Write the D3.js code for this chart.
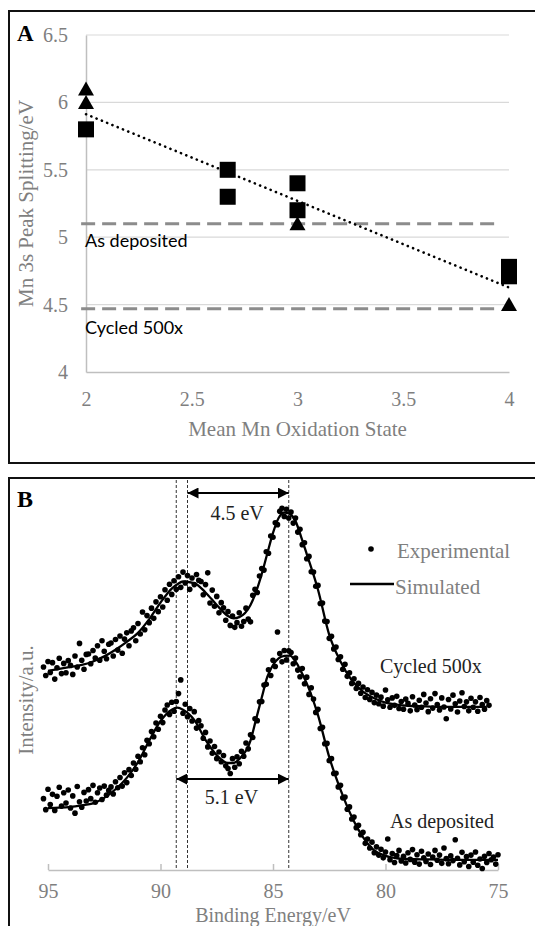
<!DOCTYPE html>
<html><head><meta charset="utf-8">
<script src="https://cdn.jsdelivr.net/npm/d3@7"></script>
<style>html,body{margin:0;padding:0;background:#fff;}svg{display:block;}
.serif{font-family:"Liberation Serif","Times New Roman",serif;}
.sans{font-family:Lato,"Noto Sans",sans-serif;}
</style>
</head><body>
<script>
// ---------- Panel A data ----------
const aXTicks = [2, 2.5, 3, 3.5, 4];
const aYTicks = [4, 4.5, 5, 5.5, 6, 6.5];
const triangleX = [2, 2, 3, 4];
const triangleY = [6.1, 6.0, 5.1, 4.5];
const squareX = [2, 2.67, 2.67, 3, 3, 4, 4];
const squareY = [5.8, 5.5, 5.3, 5.4, 5.2, 4.78, 4.71];
const refValues = [5.1, 4.47];
const refLabels = ["As deposited", "Cycled 500x"];

// ---------- Panel B data ----------
const bXTicks = [95, 90, 85, 80, 75];
const peakLines = [89.3, 88.8, 84.3];
const splitFrom = [88.8, 89.3];
const splitTo = [84.3, 84.3];
const splitLabels = ["4.5 eV", "5.1 eV"];
const seriesLabels = ["Cycled 500x", "As deposited"];
const legendLabels = ["Experimental", "Simulated"];

const simEnergy = [95.0, 94.5, 94.0, 93.5, 93.0, 92.5, 92.0, 91.5, 91.0, 90.5, 90.0, 89.5, 89.25, 89.0, 88.5, 88.0, 87.5, 87.0, 86.75, 86.5, 86.0, 85.75, 85.5, 85.25, 85.0, 84.75, 84.5, 84.25, 84.0, 83.75, 83.5, 83.0, 82.5, 82.0, 81.5, 81.0, 80.5, 80.0, 79.5, 79.0, 78.0, 77.0, 76.0, 75.5, 75.0];
const simCycled = [50.8, 51.3, 51.8, 52.3, 53.2, 54.5, 56.2, 58.2, 60.5, 64.0, 68.2, 71.8, 72.9, 73.6, 73.2, 70.8, 67.6, 64.8, 64.2, 64.5, 67.6, 71.0, 75.5, 80.8, 86.0, 89.8, 91.2, 90.8, 89.0, 85.0, 80.6, 71.5, 60.0, 53.2, 48.4, 45.5, 43.8, 42.7, 42.2, 41.9, 41.7, 41.6, 41.6, 41.6, null];
const simDeposited = [15.8, 15.9, 16.1, 16.5, 17.0, 18.4, 20.6, 23.5, 27.5, 33.0, 38.0, 40.9, 41.4, 40.9, 38.3, 33.2, 29.3, 27.3, 27.3, 28.3, 33.0, 38.5, 44.0, 49.3, 52.3, 54.0, 54.6, 54.7, 53.2, 50.6, 47.6, 39.5, 28.8, 20.5, 13.6, 8.4, 5.0, 3.6, 3.0, 2.8, 2.7, 2.6, 2.6, 2.6, 2.6];

const expEnergy = [
95.2,95.1,95.0,94.9,94.8,94.7,94.6,94.5,94.4,94.3,
94.2,94.1,94.0,93.9,93.8,93.7,93.6,93.5,93.4,93.3,
93.2,93.1,93.0,92.9,92.8,92.7,92.6,92.5,92.4,92.3,
92.2,92.1,92.0,91.9,91.8,91.7,91.6,91.5,91.4,91.3,
91.2,91.1,91.0,90.9,90.8,90.7,90.6,90.5,90.4,90.3,
90.2,90.1,90.0,89.9,89.8,89.7,89.6,89.5,89.4,89.3,
89.2,89.1,89.0,88.9,88.8,88.7,88.6,88.5,88.4,88.3,
88.2,88.1,88.0,87.9,87.8,87.7,87.6,87.5,87.4,87.3,
87.2,87.1,87.0,86.9,86.8,86.7,86.6,86.5,86.4,86.3,
86.2,86.1,86.0,85.9,85.8,85.7,85.6,85.5,85.4,85.3,
85.2,85.1,85.0,84.9,84.8,84.7,84.6,84.5,84.4,84.3,
84.2,84.1,84.0,83.9,83.8,83.7,83.6,83.5,83.4,83.3,
83.2,83.1,83.0,82.9,82.8,82.7,82.6,82.5,82.4,82.3,
82.2,82.1,82.0,81.9,81.8,81.7,81.6,81.5,81.4,81.3,
81.2,81.1,81.0,80.9,80.8,80.7,80.6,80.5,80.4,80.3,
80.2,80.1,80.0,79.9,79.8,79.7,79.6,79.5,79.4,79.3,
79.2,79.1,79.0,78.9,78.8,78.7,78.6,78.5,78.4,78.3,
78.2,78.1,78.0,77.9,77.8,77.7,77.6,77.5,77.4,77.3,
77.2,77.1,77.0,76.9,76.8,76.7,76.6,76.5,76.4,76.3,
76.2,76.1,76.0,75.9,75.8,75.7,75.6,75.5,75.4,75.3,
75.2,75.1,75.0];
const expCycled = [
51.8,49.6,53.2,50.4,52.9,48.7,51.6,54.0,50.1,52.7,
50.3,53.4,52.2,49.9,54.6,51.8,57.8,53.5,51.2,55.0,
55.1,52.6,56.0,54.1,57.2,53.5,58.5,55.8,53.9,57.6,
57.9,54.6,58.8,56.1,59.7,55.3,58.9,60.5,57.2,61.0,
61.8,58.5,62.9,60.2,65.8,61.3,64.9,63.1,66.8,64.2,
68.4,65.9,69.7,67.1,71.5,68.8,72.9,70.3,73.8,71.6,
74.8,72.1,76.0,73.2,75.1,71.6,74.5,72.8,75.4,73.9,
73.6,70.2,72.8,75.8,68.1,71.4,67.3,69.8,65.6,68.2,
66.9,63.7,65.9,62.4,64.8,61.9,63.1,65.6,62.2,63.4,
66.8,64.0,63.3,70.1,71.6,70.8,75.0,76.9,76.5,81.2,
80.8,85.2,84.9,88.6,88.1,91.5,92.3,90.2,92.0,89.8,
91.3,88.5,89.8,86.2,86.9,83.0,83.5,79.4,80.0,76.1,
76.0,72.4,72.6,68.0,68.1,63.5,63.4,59.1,59.6,56.4,
56.9,53.7,54.4,51.2,52.5,49.4,50.3,47.6,48.8,46.3,
47.6,45.1,46.7,44.0,46.0,43.5,45.3,42.7,44.6,42.4,
44.1,41.8,45.9,43.4,41.5,43.9,42.0,44.3,41.2,43.0,
41.0,43.6,42.5,40.6,44.2,42.1,40.9,43.3,41.5,44.8,
42.6,40.4,43.7,41.3,45.0,42.2,40.8,43.9,41.6,38.6,
43.5,41.1,44.6,42.4,40.3,43.1,45.2,41.7,42.9,40.6,
43.8,41.5,42.9,40.5,44.0,42.2,41.0,43.2,42.0,null,
null,null,null];
const expDeposited = [
18.2,15.4,20.6,16.7,19.3,15.2,18.8,21.1,16.3,19.7,
17.1,20.4,15.8,18.9,14.5,21.3,17.4,16.0,19.8,17.6,
20.5,18.2,21.6,17.3,19.7,20.9,18.0,21.4,19.1,20.3,
21.2,19.4,22.5,21.0,23.6,21.4,24.8,22.3,25.6,24.1,
27.3,25.7,29.0,27.6,31.2,29.4,33.1,32.2,35.3,34.0,
37.5,35.9,39.2,37.6,40.8,42.1,39.7,42.8,40.5,43.0,
45.0,48.5,40.0,42.3,39.1,41.2,38.0,40.4,36.2,38.1,
36.8,33.6,35.1,31.4,32.9,29.8,31.5,28.4,30.1,27.6,
29.2,26.6,25.9,24.6,28.4,26.2,28.9,27.1,30.3,29.0,
32.4,30.9,34.5,33.8,38.6,38.1,42.9,43.0,47.2,47.4,
51.1,49.6,53.5,51.9,60.7,55.2,53.1,56.0,53.6,55.9,
55.5,52.6,54.1,51.0,49.3,51.4,47.5,49.2,44.8,46.5,
43.6,40.2,41.0,36.1,36.4,32.2,32.3,27.9,28.4,24.6,
24.7,21.2,21.6,18.4,18.6,15.5,16.1,13.0,13.5,10.8,
11.4,9.0,9.6,6.8,7.9,5.6,7.1,4.4,5.9,3.8,
5.3,3.1,4.6,7.9,2.6,4.2,1.9,3.7,5.0,2.3,
3.5,1.8,4.4,2.7,5.2,2.0,3.9,1.5,4.8,3.1,
2.2,4.1,1.4,3.3,5.0,2.5,3.8,1.7,5.6,2.9,
1.6,3.6,2.4,7.7,3.0,1.3,4.5,2.1,3.4,0.9,
3.8,2.0,4.6,1.2,2.8,0.4,3.5,1.9,4.2,2.6,
3.3,1.5,3.9];

// ---------- drawing ----------
const W = 535, H = 926;
const GRAY = "#7f7f7f";

const svg = d3.select("body").append("svg").attr("width", W).attr("height", H);
svg.append("rect").attr("width", W).attr("height", H).attr("fill", "#fff");

function serif(sel, size) {
  return sel.attr("class", "serif").attr("font-family", null).style("font-size", size + "px");
}

// Panel borders
svg.append("path").attr("d", "M540,11H9V463H540").attr("fill", "none").attr("stroke", "#111").attr("stroke-width", 2);
svg.append("path").attr("d", "M540,478H9V930").attr("fill", "none").attr("stroke", "#111").attr("stroke-width", 2);

// ===== Panel A =====
const xA = d3.scaleLinear().domain([2, 4]).range([86, 509]);
const yA = d3.scaleLinear().domain([4, 6.5]).range([372, 35]);
const gA = svg.append("g");

gA.append("g").selectAll("line").data(aYTicks.filter(d => d > 4)).join("line")
  .attr("x1", xA(2)).attr("x2", xA(4)).attr("y1", d => yA(d)).attr("y2", d => yA(d))
  .attr("stroke", "#d9d9d9").attr("stroke-width", 1.2);

const axYA = gA.append("g").attr("transform", `translate(${xA(2)},0)`)
  .call(d3.axisLeft(yA).tickValues(aYTicks).tickFormat(d => String(d)).tickSizeInner(0).tickSizeOuter(0).tickPadding(18));
axYA.attr("font-family", null).attr("font-size", null);
axYA.select(".domain").attr("stroke", "#bfbfbf").attr("stroke-width", 1.5);
serif(axYA.selectAll("text"), 20).attr("fill", GRAY);

const axXA = gA.append("g").attr("transform", `translate(0,${yA(4)})`)
  .call(d3.axisBottom(xA).tickValues(aXTicks).tickFormat(d => String(d)).tickSizeInner(0).tickSizeOuter(0).tickPadding(20));
axXA.attr("font-family", null).attr("font-size", null);
axXA.select(".domain").attr("stroke", "#bfbfbf").attr("stroke-width", 1.5);
serif(axXA.selectAll("text"), 20).attr("fill", GRAY);

serif(gA.append("text"), 21).attr("x", (xA(2) + xA(4)) / 2).attr("y", 436).attr("text-anchor", "middle")
  .attr("fill", GRAY).text("Mean Mn Oxidation State");
serif(gA.append("text"), 21).attr("transform", `translate(33,${(yA(4) + yA(6.5)) / 2}) rotate(-90)`).attr("text-anchor", "middle")
  .attr("fill", GRAY).text("Mn 3s Peak Splitting/eV");
serif(gA.append("text"), 23).attr("x", 17).attr("y", 41).style("font-weight", "bold")
  .attr("fill", "#000").text("A");

// reference dashed lines
gA.append("g").selectAll("line").data(refValues).join("line")
  .attr("x1", xA(1.977)).attr("x2", xA(3.95)).attr("y1", d => yA(d)).attr("y2", d => yA(d))
  .attr("stroke", "#8c8c8c").attr("stroke-width", 3).attr("stroke-dasharray", "14,7");
gA.append("g").selectAll("text").data(refLabels).join("text")
  .attr("class", "sans").style("font-size", "18px")
  .attr("x", xA(2) - 1).attr("y", (d, i) => yA(refValues[i]) + (i === 0 ? 23 : 25))
  .attr("fill", "#000").text(d => d);

// triangles
gA.append("g").selectAll("path").data(triangleX).join("path")
  .attr("d", "M0,-7.5L8,6.5L-8,6.5Z")
  .attr("transform", (d, i) => `translate(${xA(d)},${yA(triangleY[i])})`).attr("fill", "#000");
// squares
gA.append("g").selectAll("rect").data(squareX).join("rect")
  .attr("x", d => xA(d) - 8).attr("y", (d, i) => yA(squareY[i]) - 8)
  .attr("width", 16).attr("height", 16).attr("fill", "#000");

// trend line (least squares over all points)
const allX = triangleX.concat(squareX), allY = triangleY.concat(squareY);
const mx = d3.mean(allX), my = d3.mean(allY);
const slope = d3.sum(allX, (x, i) => (x - mx) * (allY[i] - my)) / d3.sum(allX, x => (x - mx) * (x - mx));
const fit = x => my + slope * (x - mx);
gA.append("line").attr("x1", xA(2)).attr("y1", yA(fit(2))).attr("x2", xA(4)).attr("y2", yA(fit(4)))
  .attr("stroke", "#000").attr("stroke-width", 2.6).attr("stroke-linecap", "round").attr("stroke-dasharray", "0.1,5.6");

// ===== Panel B =====
const xB = d3.scaleLinear().domain([95, 75]).range([48, 498]);
const yB = d3.scaleLinear().domain([0, 100]).range([870, 478]);
const gB = svg.append("g");

const axXB = gB.append("g").attr("transform", `translate(0,${yB(0)})`)
  .call(d3.axisBottom(xB).tickValues(bXTicks).tickFormat(d => String(d)).tickSizeInner(-6).tickSizeOuter(0).tickPadding(14));
axXB.attr("font-family", null).attr("font-size", null);
axXB.select(".domain").attr("stroke", "#bfbfbf").attr("stroke-width", 1.5);
axXB.selectAll(".tick line").attr("stroke", "#bfbfbf").attr("stroke-width", 1.5);
serif(axXB.selectAll("text"), 20).attr("fill", GRAY);

serif(gB.append("text"), 20).attr("x", xB(85)).attr("y", 922).attr("text-anchor", "middle")
  .attr("fill", GRAY).text("Binding Energy/eV");
serif(gB.append("text"), 21).attr("transform", `translate(33,700) rotate(-90)`).attr("text-anchor", "middle")
  .attr("fill", GRAY).text("Intensity/a.u.");
serif(gB.append("text"), 24).attr("x", 17).attr("y", 507).style("font-weight", "bold")
  .attr("fill", "#000").text("B");

// vertical dashed peak lines
gB.append("g").selectAll("line").data(peakLines).join("line")
  .attr("x1", d => xB(d)).attr("x2", d => xB(d)).attr("y1", 480).attr("y2", 868)
  .attr("stroke", "#333").attr("stroke-width", 1).attr("stroke-dasharray", "3,2");

// arrows
const defs = svg.append("defs");
defs.append("marker").attr("id", "ah").attr("viewBox", "0 0 10 10").attr("refX", 10).attr("refY", 5)
  .attr("markerWidth", 11).attr("markerHeight", 11).attr("markerUnits", "userSpaceOnUse")
  .attr("orient", "auto-start-reverse")
  .append("path").attr("d", "M0,0L10,5L0,10Z").attr("fill", "#000");
const arrowY = [493, 779];
const labelY = [520, 804];
gB.append("g").selectAll("line").data(splitFrom).join("line")
  .attr("x1", d => xB(d)).attr("x2", (d, i) => xB(splitTo[i])).attr("y1", (d, i) => arrowY[i]).attr("y2", (d, i) => arrowY[i])
  .attr("stroke", "#000").attr("stroke-width", 2)
  .attr("marker-start", "url(#ah)").attr("marker-end", "url(#ah)");
serif(gB.append("g").selectAll("text").data(splitLabels).join("text"), 20)
  .attr("x", (d, i) => (xB(splitFrom[i]) + xB(splitTo[i])) / 2 - 1).attr("y", (d, i) => labelY[i])
  .attr("text-anchor", "middle").attr("fill", "#222").text(d => d);

// simulated curves
const line = d3.line().defined(d => d[1] !== null).x(d => xB(d[0])).y(d => yB(d[1])).curve(d3.curveMonotoneX);
[simCycled, simDeposited].forEach(s => {
  gB.append("path").datum(simEnergy.map((e, i) => [e, s[i]])).attr("d", line)
    .attr("fill", "none").attr("stroke", "#000").attr("stroke-width", 2.3);
});
// experimental dots
[expCycled, expDeposited].forEach(s => {
  gB.append("g").selectAll("circle").data(expEnergy.map((e, i) => [e, s[i]]).filter(d => d[1] !== null)).join("circle")
    .attr("cx", d => xB(d[0])).attr("cy", d => yB(d[1])).attr("r", 2.8).attr("fill", "#000");
});

// series labels
const seriesLabelPos = [[380, 673], [390, 828]];
serif(gB.append("g").selectAll("text").data(seriesLabels).join("text"), 20)
  .attr("x", (d, i) => seriesLabelPos[i][0]).attr("y", (d, i) => seriesLabelPos[i][1])
  .attr("fill", "#222").text(d => d);

// legend
gB.append("circle").attr("cx", 371).attr("cy", 549).attr("r", 2.8).attr("fill", "#000");
gB.append("line").attr("x1", 350).attr("x2", 394).attr("y1", 584).attr("y2", 584).attr("stroke", "#000").attr("stroke-width", 2.5);
serif(gB.append("g").selectAll("text").data(legendLabels).join("text"), 21)
  .attr("x", (d, i) => i === 0 ? 397 : 395).attr("y", (d, i) => i === 0 ? 558 : 594)
  .attr("fill", GRAY).text(d => d);
</script>
</body></html>
